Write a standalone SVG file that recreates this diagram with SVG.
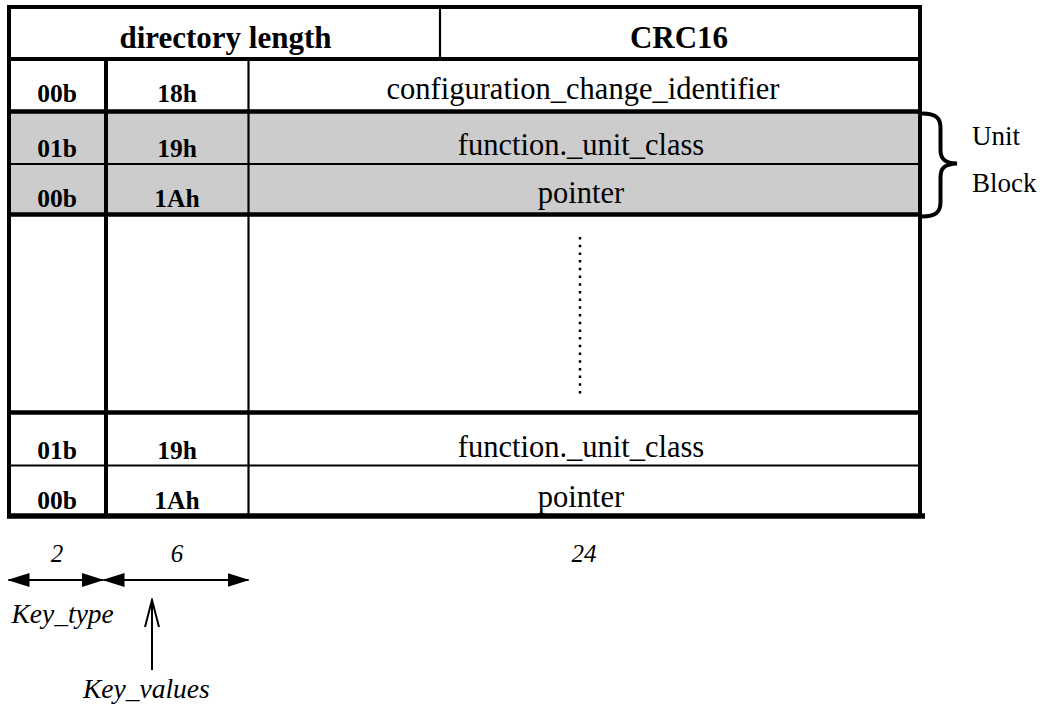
<svg xmlns="http://www.w3.org/2000/svg" width="1045" height="704" viewBox="0 0 1045 704">
  <style>
    .bd { font-family: "Liberation Serif", "Times New Roman", serif; font-weight: bold; fill: #000; text-anchor: middle; }
    .hd { font-size: 31px; }
    .key { font-size: 25.5px; }
    .rg { font-family: "Liberation Serif", "Times New Roman", serif; font-size: 30.5px; fill: #000; text-anchor: middle; }
    .side { font-family: "Liberation Serif", "Times New Roman", serif; font-size: 27px; fill: #000; }
    .it { font-family: "Liberation Serif", "Times New Roman", serif; font-style: italic; fill: #000; }
    .num { font-size: 25px; text-anchor: middle; }
    .lbl { font-size: 27.5px; }
    .thick { stroke: #000; stroke-width: 4.5; fill: none; }
    .mid { stroke: #000; stroke-width: 4; fill: none; }
    .thin { stroke: #000; stroke-width: 2.2; fill: none; }
    .shade { fill: #cccccc; }
    .dim { stroke: #000; stroke-width: 2; fill: none; }
  </style>
  <defs>
    <marker id="solidHead" markerUnits="userSpaceOnUse" viewBox="0 0 22 14" markerWidth="22" markerHeight="14" refX="21" refY="7" orient="auto-start-reverse">
      <path d="M0,0 L22,7 L0,14 Z" fill="#000"/>
    </marker>
    <marker id="openHead" markerUnits="userSpaceOnUse" viewBox="0 0 30 16" markerWidth="30" markerHeight="16" refX="28" refY="8" orient="auto">
      <path d="M1,1 L28,8 L1,15" fill="none" stroke="#000" stroke-width="2"/>
    </marker>
  </defs>

  <rect width="1045" height="704" fill="#fff"/>

  <!-- directory table frame -->
  <g id="table">
    <rect class="shade" x="9" y="113" width="911" height="101"/>
    <!-- horizontal rules -->
    <line class="mid" x1="7" y1="7" x2="922" y2="7"/>
    <line class="mid" x1="7" y1="59" x2="922" y2="59"/>
    <line class="thick" x1="7" y1="111.5" x2="922" y2="111.5"/>
    <line class="thin" x1="7" y1="164" x2="922" y2="164"/>
    <line class="thick" x1="7" y1="214.5" x2="922" y2="214.5"/>
    <line class="thick" x1="7" y1="412.5" x2="922" y2="412.5"/>
    <line class="thin" x1="7" y1="465.5" x2="922" y2="465.5"/>
    <line x1="7" y1="516" x2="925" y2="516" stroke="#000" stroke-width="5.5"/>
    <!-- vertical rules -->
    <line class="mid" x1="9" y1="5" x2="9" y2="518"/>
    <line class="mid" x1="920" y1="5" x2="920" y2="518"/>
    <line class="thin" x1="440" y1="7" x2="440" y2="59"/>
    <line class="mid" x1="106" y1="59" x2="106" y2="516"/>
    <line class="thin" x1="248.5" y1="59" x2="248.5" y2="516"/>
    <!-- elided entries -->
    <line x1="580" y1="237" x2="580" y2="395" stroke="#000" stroke-width="2.5" stroke-dasharray="2.5 5.2"/>
  </g>

  <g id="header">
    <text class="bd hd" x="225.5" y="47.5">directory length</text>
    <text class="bd hd" x="679" y="47.5">CRC16</text>
  </g>

  <g id="entry-config">
    <text class="bd key" x="57" y="101.5">00b</text>
    <text class="bd key" x="177" y="101.5">18h</text>
    <text class="rg" x="583" y="99">configuration_change_identifier</text>
  </g>

  <g id="entry-unit-class">
    <text class="bd key" x="57" y="156.5">01b</text>
    <text class="bd key" x="177" y="156.5">19h</text>
    <text class="rg" x="581" y="155">function._unit_class</text>
  </g>

  <g id="entry-unit-pointer">
    <text class="bd key" x="57" y="206.5">00b</text>
    <text class="bd key" x="177" y="206.5">1Ah</text>
    <text class="rg" x="581" y="203">pointer</text>
  </g>

  <g id="entry-last-class">
    <text class="bd key" x="57" y="459">01b</text>
    <text class="bd key" x="177" y="459">19h</text>
    <text class="rg" x="581" y="456.5">function._unit_class</text>
  </g>

  <g id="entry-last-pointer">
    <text class="bd key" x="57" y="508.5">00b</text>
    <text class="bd key" x="177" y="508.5">1Ah</text>
    <text class="rg" x="581" y="506.5">pointer</text>
  </g>

  <g id="unit-block">
    <path d="M922,113.5 C936,113.5 940.5,118 940.5,128 L940.5,150 C940.5,159 945,163 957,163.5 C945,164 940.5,168 940.5,177 L940.5,202 C940.5,212 936,216.5 922,216.5" fill="none" stroke="#000" stroke-width="4"/>
    <text class="side" x="972" y="145">Unit</text>
    <text class="side" x="972" y="191.5">Block</text>
  </g>

  <g id="bit-widths">
    <text class="it num" x="57" y="561.5">2</text>
    <text class="it num" x="177" y="561.5">6</text>
    <text class="it num" x="584" y="561.5">24</text>
  </g>

  <g id="key-type">
    <text class="it lbl" x="11.5" y="623">Key_type</text>
  </g>

  <g id="key-values">
    <text class="it lbl" x="83" y="698">Key_values</text>
  </g>

  <g id="connectors">
    <line class="dim" x1="8.5" y1="580" x2="103" y2="580" marker-start="url(#solidHead)" marker-end="url(#solidHead)"/>
    <line class="dim" x1="103.5" y1="580" x2="248.5" y2="580" marker-start="url(#solidHead)" marker-end="url(#solidHead)"/>
    <line class="dim" x1="152" y1="670" x2="152" y2="600" marker-end="url(#openHead)"/>
  </g>
</svg>
